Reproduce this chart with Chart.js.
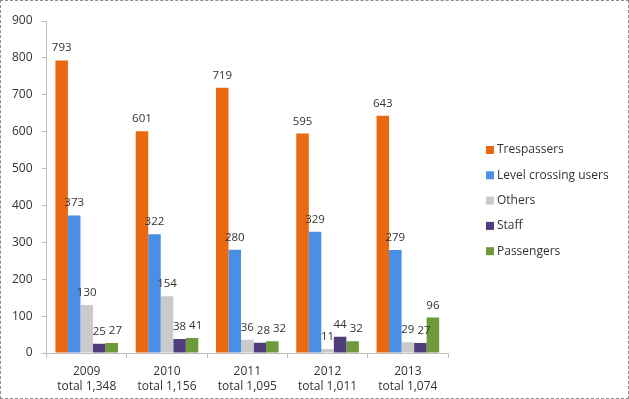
<!DOCTYPE html>
<html>
<head>
<meta charset="utf-8">
<script src="https://cdn.jsdelivr.net/npm/chart.js@4/dist/chart.umd.min.js"></script>
<style>
  html, body { margin: 0; padding: 0; background: #fff; }
  #wrap { position: relative; width: 627px; height: 397px; border: 1px dashed #8c8c8c; }
  canvas { display: block; }
</style>
</head>
<body>
<div id="wrap"><canvas id="chart" width="627" height="397"></canvas></div>
<script>
const years = ['2009', '2010', '2011', '2012', '2013'];
const totals = ['total 1,348', 'total 1,156', 'total 1,095', 'total 1,011', 'total 1,074'];
const trespassers = [793, 601, 719, 595, 643];
const levelCrossing = [373, 322, 280, 329, 279];
const others = [130, 154, 36, 11, 29];
const staff = [25, 38, 28, 44, 27];
const passengers = [27, 41, 32, 32, 96];

const fontFamily = "'Open Sans', sans-serif";
const textColor = '#333';
const axisColor = '#bdbdbd';

// labels above every bar, nudged right when they would collide
const barValues = {
  id: 'barValues',
  afterDatasetsDraw(chart) {
    const ctx = chart.ctx;
    ctx.save();
    ctx.font = '11.5px ' + fontFamily;
    ctx.fillStyle = textColor;
    ctx.textAlign = 'left';
    ctx.textBaseline = 'alphabetic';
    chart.data.labels.forEach((_, j) => {
      let prev = null;
      chart.data.datasets.forEach((ds, i) => {
        const bar = chart.getDatasetMeta(i).data[j];
        const txt = String(ds.data[j]);
        const w = ctx.measureText(txt).width;
        let x = bar.x - w / 2;
        const y = bar.y - 9;
        if (prev && Math.abs(prev.y - y) < 12 && x < prev.right + 3) x = prev.right + 3;
        ctx.fillText(txt, x, y);
        prev = { right: x + w, y: y };
      });
    });
    ctx.restore();
  }
};

// legend on the right, one row per series
const sideLegend = {
  id: 'sideLegend',
  afterDraw(chart) {
    const ctx = chart.ctx;
    ctx.save();
    ctx.font = '12px ' + fontFamily;
    ctx.textBaseline = 'middle';
    chart.data.datasets.forEach((ds, i) => {
      const y = 149 + i * 25.3;
      ctx.fillStyle = ds.backgroundColor;
      ctx.fillRect(485, y - 4, 8, 8);
      ctx.fillStyle = textColor;
      ctx.fillText(ds.label, 496, y);
    });
    ctx.restore();
  }
};

new Chart(document.getElementById('chart'), {
  type: 'bar',
  data: {
    labels: years.map((y, i) => [y, totals[i]]),
    datasets: [
      { label: 'Trespassers', data: trespassers, backgroundColor: '#e8690f' },
      { label: 'Level crossing users', data: levelCrossing, backgroundColor: '#4a8fe6' },
      { label: 'Others', data: others, backgroundColor: '#cacaca' },
      { label: 'Staff', data: staff, backgroundColor: '#4f3d7c' },
      { label: 'Passengers', data: passengers, backgroundColor: '#6f9a3b' }
    ]
  },
  options: {
    responsive: false,
    animation: false,
    layout: { padding: { top: 20, left: 2, right: 180, bottom: -2 } },
    datasets: { bar: { categoryPercentage: 0.78, barPercentage: 1 } },
    plugins: {
      legend: { display: false },
      tooltip: { enabled: false }
    },
    scales: {
      x: {
        grid: { display: true, drawOnChartArea: false, color: axisColor, tickLength: 5, offset: true },
        border: { color: axisColor },
        ticks: { font: { family: fontFamily, size: 12, lineHeight: 1.25 }, color: textColor, padding: 6, maxRotation: 0 }
      },
      y: {
        min: 0,
        max: 900,
        grid: { display: true, drawOnChartArea: false, color: axisColor, tickLength: 5 },
        border: { color: axisColor },
        ticks: { stepSize: 100, font: { family: fontFamily, size: 12 }, color: textColor, padding: 9 }
      }
    }
  },
  plugins: [barValues, sideLegend]
});
</script>
</body>
</html>
